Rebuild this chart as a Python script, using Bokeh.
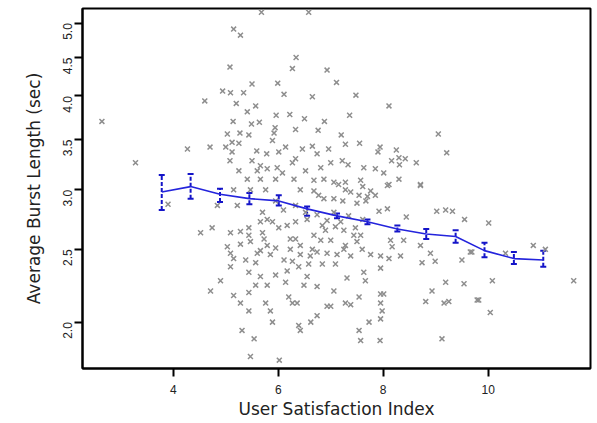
import math
from bokeh.plotting import figure
from bokeh.models import Range1d, FixedTicker, CustomJSTickFormatter, Whisker, TeeHead, ColumnDataSource
from bokeh.embed import file_html
from bokeh.resources import INLINE

# ---- data ----
x_ticks = [4, 6, 8, 10]
y_ticks = [2.0, 2.5, 3.0, 3.5, 4.0, 4.5, 5.0]

bin_x = [3.78, 4.33, 4.89, 5.45, 6.01, 6.55, 7.12, 7.70, 8.27, 8.82, 9.38, 9.93, 10.49, 11.05]
bin_mean = [2.98, 3.03, 2.96, 2.92, 2.90, 2.83, 2.77, 2.72, 2.66, 2.62, 2.60, 2.49, 2.43, 2.42]
bin_upper = [3.14, 3.15, 3.01, 2.97, 2.95, 2.85, 2.79, 2.74, 2.69, 2.66, 2.65, 2.55, 2.48, 2.49]
bin_lower = [2.82, 2.92, 2.89, 2.87, 2.86, 2.77, 2.75, 2.70, 2.64, 2.58, 2.55, 2.44, 2.39, 2.37]

sat_x = [
    2.64, 3.28, 3.90,
    5.68, 6.58, 5.15, 5.28, 6.34, 5.08, 6.27, 6.93, 5.50, 5.99, 4.94, 5.09, 5.34, 6.11, 6.65, 4.60,
    5.20, 5.57, 5.41, 5.96, 6.22, 6.50, 6.88, 5.14, 5.49, 5.64, 5.94, 6.33, 6.76, 5.92, 5.03, 5.27,
    5.44, 5.89, 4.27, 4.70, 5.00, 5.12, 5.25, 5.12, 5.59, 5.78, 6.01, 6.14, 6.33, 6.46, 6.65, 6.74,
    6.96, 5.08, 5.50, 5.66, 5.79, 5.98, 6.27, 6.52, 6.81, 5.25, 5.60, 6.08, 5.41, 5.66, 5.95, 6.30,
    6.68, 6.87,
    7.11, 7.48, 8.11, 7.36, 7.20, 9.05, 9.21, 7.28, 7.55, 7.94, 8.25, 7.90, 7.22, 7.33, 7.63, 7.85,
    8.01, 8.16, 8.30, 8.42, 8.31, 8.63, 7.00, 7.06, 7.28, 7.57, 8.30, 8.71, 8.11,
    5.15, 5.47, 6.42, 6.68, 6.87, 4.84, 5.22, 4.52, 4.74, 5.09, 5.28, 5.44, 5.44, 5.66, 5.79, 6.01,
    6.17, 6.33, 6.55, 6.74, 6.84, 6.93, 6.33, 6.68, 6.81, 5.03, 5.28, 5.73, 5.79, 5.66, 5.95, 6.23,
    5.09, 5.38, 5.60, 5.15, 6.11, 6.42, 6.61, 6.74, 6.93, 5.09, 5.57, 5.44, 5.66, 5.95, 6.17, 6.39,
    6.58, 6.55, 4.90, 5.57, 5.79, 6.14, 6.49, 6.74, 4.71, 5.15, 5.44, 6.20, 6.27, 6.36, 5.28, 5.76,
    5.44, 5.85, 5.89, 6.62, 6.74, 6.39, 6.42, 5.31, 5.54, 5.47, 6.02, 6.93,
    7.28, 7.54, 7.70, 7.85, 8.08, 8.71, 7.06, 7.50, 7.92, 8.08, 8.44, 9.02, 9.19, 9.32, 9.55, 7.09,
    7.25, 7.44, 7.50, 7.60, 7.25, 7.12, 7.38, 7.76, 7.95, 8.14, 8.17, 8.33, 8.39, 8.11, 8.71, 8.90,
    8.74, 8.99, 9.50, 9.66, 7.95, 7.63, 7.09, 7.31, 7.66, 7.06, 7.54, 7.95, 8.01, 9.19, 9.54, 8.93,
    8.81, 9.16, 9.25, 9.79, 7.28, 7.38, 7.00, 7.95, 7.98, 7.95, 7.73, 7.54, 7.57, 7.94, 9.12,
    10.01, 10.86, 11.09, 10.33, 9.69, 10.08, 9.82, 10.04, 11.63,
    7.15, 7.38, 7.61, 7.76, 7.23, 7.67, 7.06, 7.34, 7.61, 7.19, 7.47, 7.00, 7.28, 7.57,
    5.76, 5.95, 5.70, 5.89, 6.10, 6.33, 6.52, 6.77, 6.90, 6.23, 6.42, 6.65, 5.85, 6.27, 6.84, 5.70,
    5.47,
]
burst_y = [
    3.70, 3.26, 2.87,
    5.17, 5.17, 4.91, 4.82, 4.50, 4.37, 4.35, 4.33, 4.15, 4.16, 4.06, 4.04, 4.04, 4.02, 3.99, 3.94,
    3.91, 3.88, 3.81, 3.77, 3.78, 3.73, 3.70, 3.70, 3.67, 3.69, 3.63, 3.61, 3.60, 3.57, 3.56, 3.57,
    3.55, 3.49, 3.40, 3.42, 3.42, 3.47, 3.46, 3.37, 3.38, 3.35, 3.37, 3.42, 3.30, 3.40, 3.43, 3.35,
    3.40, 3.28, 3.28, 3.23, 3.20, 3.21, 3.26, 3.18, 3.21, 3.18, 3.18, 3.16, 3.10, 3.10, 3.10, 3.10,
    3.09, 3.10,
    4.17, 4.01, 3.88, 3.77, 3.55, 3.56, 3.36, 3.45, 3.46, 3.42, 3.39, 3.37, 3.28, 3.24, 3.21, 3.20,
    3.16, 3.28, 3.31, 3.30, 3.24, 3.26, 3.26, 3.07, 3.07, 3.09, 3.10, 3.05, 3.05,
    3.00, 3.00, 3.00, 2.99, 2.92, 2.86, 2.86, 2.63, 2.67, 2.63, 2.64, 2.67, 2.61, 2.72, 2.74, 2.67,
    2.69, 2.72, 2.74, 2.78, 2.69, 2.73, 2.58, 2.61, 2.57, 2.52, 2.54, 2.58, 2.53, 2.49, 2.51, 2.50,
    2.47, 2.42, 2.47, 2.43, 2.42, 2.46, 2.45, 2.48, 2.47, 2.37, 2.40, 2.33, 2.30, 2.31, 2.34, 2.37,
    2.39, 2.30, 2.27, 2.24, 2.24, 2.26, 2.24, 2.23, 2.20, 2.17, 2.19, 2.16, 2.12, 2.12, 2.12, 2.12,
    2.07, 2.07, 2.00, 2.00, 2.04, 1.98, 1.95, 1.95, 1.90, 1.80, 1.78, 2.10,
    3.00, 2.95, 2.94, 2.95, 3.04, 3.04, 2.92, 2.88, 2.81, 2.83, 2.76, 2.81, 2.82, 2.81, 2.74, 2.68,
    2.65, 2.61, 2.56, 2.50, 2.50, 2.46, 2.45, 2.46, 2.45, 2.57, 2.52, 2.45, 2.57, 2.43, 2.53, 2.47,
    2.40, 2.41, 2.42, 2.48, 2.36, 2.33, 2.39, 2.29, 2.27, 2.20, 2.16, 2.18, 2.18, 2.26, 2.25, 2.20,
    2.13, 2.12, 2.13, 2.14, 2.12, 2.11, 2.10, 2.12, 2.07, 2.02, 2.00, 1.95, 1.89, 1.89, 1.90,
    2.71, 2.53, 2.50, 2.47, 2.48, 2.27, 2.14, 2.06, 2.27,
    3.05, 2.98, 3.03, 2.99, 2.90, 2.90, 2.80, 2.77, 2.74, 2.72, 2.67, 2.57, 2.53, 2.61,
    3.00, 2.90, 2.80, 2.72, 2.82, 2.86, 2.80, 2.95, 2.65, 2.58, 2.53, 2.50, 2.46, 2.41, 2.39, 2.63,
    2.56,
]

# ---- figure ----
p = figure(width=597, height=423, output_backend="svg", toolbar_location=None,
           y_axis_type="log",
           x_range=Range1d(2.27, 11.95), y_range=Range1d(1.735, 5.23),
           min_border_left=82, min_border_right=7, min_border_top=8, min_border_bottom=55)
p.xgrid.visible = False
p.ygrid.visible = False
p.outline_line_color = "black"
p.outline_line_width = 2
p.outline_line_alpha = 1.0
p.background_fill_color = "white"
p.border_fill_color = "white"

p.scatter(sat_x, burst_y, marker="x", size=7, line_color="#8e8e8e", line_width=1.5)

p.line(bin_x, bin_mean, line_color="#2424dc", line_width=1.6)

src = ColumnDataSource(dict(x=bin_x, upper=bin_upper, lower=bin_lower))
wh = Whisker(base="x", upper="upper", lower="lower", source=src,
             line_color="#1414c8", line_width=2, line_dash="4 2",
             upper_head=TeeHead(size=6, line_color="#1414c8", line_width=2),
             lower_head=TeeHead(size=6, line_color="#1414c8", line_width=2))
p.add_layout(wh)

for ax in (p.xaxis[0], p.yaxis[0]):
    ax.axis_line_width = 2
    ax.major_tick_out = 8
    ax.major_tick_in = 0
    ax.major_tick_line_width = 2
    ax.minor_tick_out = 0
    ax.minor_tick_in = 0
    ax.axis_label_text_font = "DejaVu Sans"
    ax.axis_label_text_font_style = "normal"
    ax.axis_label_text_font_size = "17px"
    ax.axis_label_text_color = "#222222"
    ax.major_label_text_font = "Liberation Sans"
    ax.major_label_text_font_size = "12px"
    ax.major_label_text_color = "#222222"

p.xaxis.ticker = FixedTicker(ticks=x_ticks)
p.xaxis.axis_label = "User Satisfaction Index"
p.xaxis.major_label_standoff = 8
p.xaxis.axis_label_standoff = 2

p.yaxis.ticker = FixedTicker(ticks=y_ticks)
p.yaxis.formatter = CustomJSTickFormatter(code="return tick.toFixed(1);")
p.yaxis.axis_label = "Average Burst Length (sec)"
p.yaxis.major_label_orientation = math.pi / 2
p.yaxis.major_label_standoff = 7
p.yaxis.axis_label_standoff = 12

open("out.html", "w").write(file_html(p, INLINE))
